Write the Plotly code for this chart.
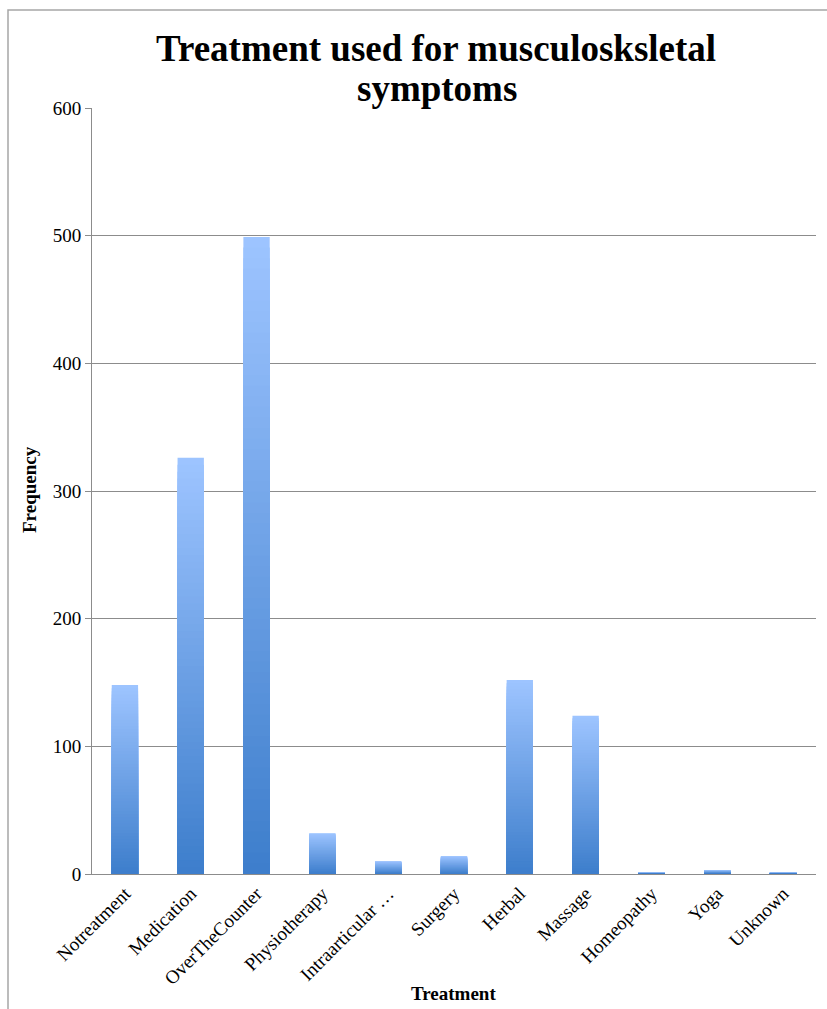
import plotly.graph_objects as go

# Survey counts of treatments used for musculoskeletal symptoms
categories = ["Notreatment", "Medication", "OverTheCounter", "Physiotherapy",
              "Intraarticular …", "Surgery", "Herbal", "Massage",
              "Homeopathy", "Yoga", "Unknown"]
frequency = [148, 326, 499, 32, 10, 14, 152, 124, 1, 3, 1]
y_ticks = [0, 100, 200, 300, 400, 500, 600]

W, H = 827, 1009
L, R, T, B = 92, 816, 108, 874
SERIF = "Liberation Serif, Times New Roman, serif"
GRID = "#8c8c8c"

# gradient end colours for the bars (bottom -> top)
DARK = (0x3c, 0x7d, 0xcb)
LIGHT = (0x9d, 0xc4, 0xff)
LAYERS = 60


def px_x(px):
    return (px - L) / (R - L)


def px_y(py):
    return (B - py) / (B - T)


def mix(f):
    return "rgb({},{},{})".format(*[round(d + (l - d) * f) for d, l in zip(DARK, LIGHT)])


fig = go.Figure()

# Each bar is built from overlaid bars of decreasing height, so that its
# colour runs from light blue at the top to a deeper blue at the base.
for k in range(LAYERS):
    frac = 1 - k / LAYERS
    fig.add_trace(go.Bar(
        x=categories,
        y=[v * frac for v in frequency],
        marker=dict(color=mix(frac), line=dict(width=0)),
        hoverinfo="x+y" if k == 0 else "skip",
        showlegend=False,
    ))

fig.update_layout(
    width=W, height=H,
    margin=dict(l=L, r=W - R, t=T, b=H - B, autoexpand=False),
    paper_bgcolor="white",
    plot_bgcolor="white",
    barmode="overlay",
    bargap=0.6,
    font=dict(family=SERIF, size=19, color="black"),
    xaxis=dict(
        type="category",
        tickangle=-45,
        ticks="",
        showline=True, linecolor=GRID, linewidth=1,
        showgrid=False,
        tickfont=dict(family=SERIF, size=19, color="black"),
    ),
    yaxis=dict(
        range=[0, 600],
        tickvals=y_ticks,
        ticks="outside", ticklen=6, tickcolor=GRID, tickwidth=1,
        showline=True, linecolor=GRID, linewidth=1,
        showgrid=True, gridcolor=GRID, gridwidth=1,
        zeroline=False,
        tickfont=dict(family=SERIF, size=19, color="black"),
    ),
    shapes=[
        # chart frame
        dict(type="rect", xref="paper", yref="paper",
             x0=px_x(8), x1=px_x(W + 10), y0=px_y(H + 10), y1=px_y(10),
             line=dict(color="#a6a6a6", width=1.5), fillcolor="rgba(0,0,0,0)",
             layer="below"),
    ],
    annotations=[
        dict(text="<b>Treatment used for musculosksletal</b>",
             xref="paper", yref="paper", x=px_x(436), y=px_y(49),
             xanchor="center", yanchor="middle", showarrow=False,
             font=dict(family=SERIF, size=37, color="black")),
        dict(text="<b>symptoms</b>",
             xref="paper", yref="paper", x=px_x(437), y=px_y(89),
             xanchor="center", yanchor="middle", showarrow=False,
             font=dict(family=SERIF, size=37, color="black")),
        dict(text="<b>Frequency</b>",
             xref="paper", yref="paper", x=px_x(29), y=px_y(490),
             xanchor="center", yanchor="middle", textangle=-90, showarrow=False,
             font=dict(family=SERIF, size=19, color="black")),
        dict(text="<b>Treatment</b>",
             xref="paper", yref="paper", x=px_x(453), y=px_y(993),
             xanchor="center", yanchor="middle", showarrow=False,
             font=dict(family=SERIF, size=19, color="black")),
    ],
)

fig.write_html("out.html")
